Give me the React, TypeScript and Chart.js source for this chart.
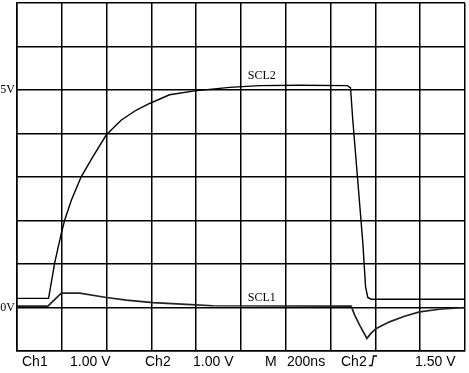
import { useEffect, useRef } from "react";
import { Chart, registerables } from "chart.js";

Chart.register(...registerables);

// Time in ns (200 ns/div), amplitude in V (1 V/div)
const scl2Time = [0, 141, 168, 198, 213, 243, 287, 339, 399, 466, 533, 592, 681, 793, 949, 1083, 1261, 1475, 1489, 1499, 1521, 1544, 1556, 1566, 1581, 2000];
const scl2Volts = [0.21, 0.21, 1.02, 1.71, 2.01, 2.47, 3.01, 3.47, 3.97, 4.31, 4.54, 4.69, 4.89, 4.98, 5.06, 5.1, 5.11, 5.1, 5.05, 4.31, 2.93, 1.48, 0.48, 0.23, 0.19, 0.19];
const scl1Time = [0, 138, 198, 280, 399, 488, 607, 756, 875, 1492, 1507, 1529, 1562, 1581, 1604, 1663, 1730, 1797, 1886, 2000];
const scl1Volts = [0.03, 0.03, 0.33, 0.33, 0.23, 0.17, 0.11, 0.07, 0.04, 0.03, -0.17, -0.4, -0.71, -0.59, -0.48, -0.33, -0.2, -0.1, -0.04, 0.0];

const levelLabels = ["5V", "0V"];
const levelValues = [5, 0];

const traceNames = ["SCL2", "SCL1"];
const traceLabelTime = [1093, 1093];
const traceLabelVolts = [5.32, 0.23];

const statusTexts = ["Ch1", "1.00 V", "Ch2", "1.00 V", "M", "200ns", "Ch2", "1.50 V"];
const statusX = [22, 70, 145, 193, 265, 287, 341, 415];
const triggerX = 369;

const textPlugin = {
  id: "scopeText",
  afterDraw(chart: any) {
    const ctx = chart.ctx;
    const xs = chart.scales.x;
    const ys = chart.scales.y;
    const area = chart.chartArea;
    ctx.save();
    ctx.fillStyle = "#000";
    ctx.textBaseline = "middle";
    ctx.font = "12px 'Liberation Serif', serif";
    ctx.textAlign = "right";
    levelLabels.forEach((l, i) => {
      ctx.fillText(l, area.left - 2, ys.getPixelForValue(levelValues[i]));
    });
    ctx.textAlign = "center";
    traceNames.forEach((n, i) => {
      ctx.fillText(n, xs.getPixelForValue(traceLabelTime[i]), ys.getPixelForValue(traceLabelVolts[i]));
    });
    ctx.font = "14px 'Liberation Sans', Arial, sans-serif";
    ctx.textAlign = "left";
    ctx.textBaseline = "alphabetic";
    const base = area.bottom + 15;
    statusTexts.forEach((t, i) => {
      ctx.fillText(t, statusX[i], base);
    });
    // rising-edge trigger symbol
    ctx.strokeStyle = "#000";
    ctx.lineWidth = 1.3;
    ctx.beginPath();
    ctx.moveTo(triggerX, base - 0.5);
    ctx.lineTo(triggerX + 3, base - 0.5);
    ctx.lineTo(triggerX + 4.5, base - 10);
    ctx.lineTo(triggerX + 8, base - 10);
    ctx.stroke();
    ctx.restore();
  },
};

export default function App() {
  const ref = useRef<HTMLCanvasElement | null>(null);
  useEffect(() => {
    if (!ref.current) return;
    const chart = new Chart(ref.current, {
      type: "line",
      data: {
        datasets: [
          {
            label: "SCL2",
            data: scl2Time.map((t, i) => ({ x: t, y: scl2Volts[i] })),
            borderColor: "#000",
            borderWidth: 1.4,
            pointRadius: 0,
            tension: 0,
          },
          {
            label: "SCL1",
            data: scl1Time.map((t, i) => ({ x: t, y: scl1Volts[i] })),
            borderColor: "#222",
            borderWidth: 1.7,
            pointRadius: 0,
            tension: 0,
          },
        ],
      },
      options: {
        responsive: false,
        animation: false,
        layout: { padding: { left: 17, top: 3, right: 4, bottom: 22 } },
        plugins: { legend: { display: false }, tooltip: { enabled: false } },
        scales: {
          x: {
            type: "linear",
            min: 0,
            max: 2000,
            ticks: { display: false, stepSize: 200 },
            grid: { color: "#000", lineWidth: 1.5, drawTicks: false },
            border: { display: true, color: "#000", width: 1.5 },
          },
          y: {
            type: "linear",
            min: -1,
            max: 7,
            ticks: { display: false, stepSize: 1 },
            grid: { color: "#000", lineWidth: 1.5, drawTicks: false },
            border: { display: true, color: "#000", width: 1.5 },
          },
        },
      },
      plugins: [textPlugin],
    });
    return () => chart.destroy();
  }, []);
  return (
    <div style={{ position: "fixed", left: 0, top: 0, width: 469, height: 373, background: "#fff" }}>
      <canvas ref={ref} width={469} height={373} style={{ display: "block" }} />
    </div>
  );
}
